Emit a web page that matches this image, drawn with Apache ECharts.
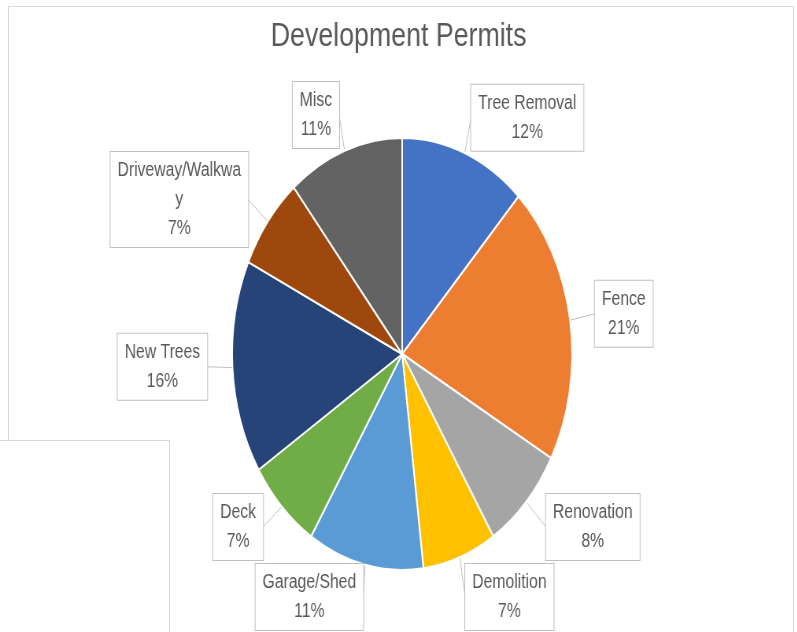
<!DOCTYPE html>
<html>
<head>
<meta charset="utf-8">
<script src="https://cdn.jsdelivr.net/npm/echarts@6/dist/echarts.min.js"></script>
<style>
  html, body { margin: 0; padding: 0; background: #fff; overflow: hidden; }
  #wrap { position: relative; width: 797px; height: 632px; overflow: hidden; }
  #frame { position: absolute; left: 8px; top: 6px; width: 784px; height: 700px; border: 1px solid #d9d9d9; }
  #chart { position: absolute; left: 0; top: 0; width: 1013px; height: 632px; transform: scaleX(0.787); transform-origin: 0 0; }
  #box { position: absolute; left: -1px; top: 440px; width: 169px; height: 300px; border: 1px solid #d9d9d9; background: #fff; }
</style>
</head>
<body>
<div id="wrap">
  <div id="frame"></div>
  <div id="chart"></div>
  <div id="box"></div>
</div>
<script>
// pie slices, clockwise from 12 o'clock
const categories = ['Tree Removal', 'Fence', 'Renovation', 'Demolition', 'Garage/Shed', 'Deck', 'New Trees', 'Driveway/Walkway', 'Misc'];
const values = [12, 21, 8, 7, 11, 7, 16, 7, 11];
const colors = ['#4472C4', '#ED7D31', '#A5A5A5', '#FFC000', '#5B9BD5', '#70AD47', '#264478', '#9E480E', '#636363'];

const labelFont = '20px "Liberation Sans"';
const maxLabelWidth = 160;

// break a long name across lines the way Excel wraps it inside the callout
const ctx = document.createElement('canvas').getContext('2d');
ctx.font = labelFont;
function wrap(text) {
  const lines = [];
  let cur = '';
  for (const ch of text) {
    if (cur && ctx.measureText(cur + ch).width > maxLabelWidth) {
      lines.push(cur);
      cur = ch;
    } else {
      cur += ch;
    }
  }
  lines.push(cur);
  return lines;
}

const chart = echarts.init(document.getElementById('chart'));

chart.setOption({
  animation: false,
  title: {
    text: 'Development Permits',
    left: 'center',
    top: 15,
    textStyle: { color: '#595959', fontSize: 34, fontWeight: 'normal', fontFamily: 'Liberation Sans' }
  },
  series: [
    {
      type: 'pie',
      center: [511, 354],
      radius: 216,
      startAngle: 90,
      clockwise: true,
      percentPrecision: 0,
      itemStyle: { borderColor: '#fff', borderWidth: 2 },
      label: {
        show: true,
        position: 'outside',
        formatter: (p) => wrap(p.name).concat([p.percent + '%']).map((s) => '{c|' + s + '}').join('\n'),
        color: '#595959',
        fontSize: 20,
        fontFamily: 'Liberation Sans',
        lineHeight: 29,
        backgroundColor: '#fff',
        borderColor: '#bfbfbf',
        borderWidth: 1,
        padding: [4, 9],
        distanceToLabelLine: 0,
        rich: {
          c: { align: 'center', color: '#595959', fontSize: 20, fontFamily: 'Liberation Sans', lineHeight: 29 }
        }
      },
      labelLine: {
        show: true,
        length: 38,
        length2: -6,
        lineStyle: { color: '#bfbfbf', width: 1 }
      },
      emphasis: { disabled: true },
      data: categories.map((name, i) => ({ name: name, value: values[i], itemStyle: { color: colors[i] } }))
    }
  ]
});
</script>
</body>
</html>
